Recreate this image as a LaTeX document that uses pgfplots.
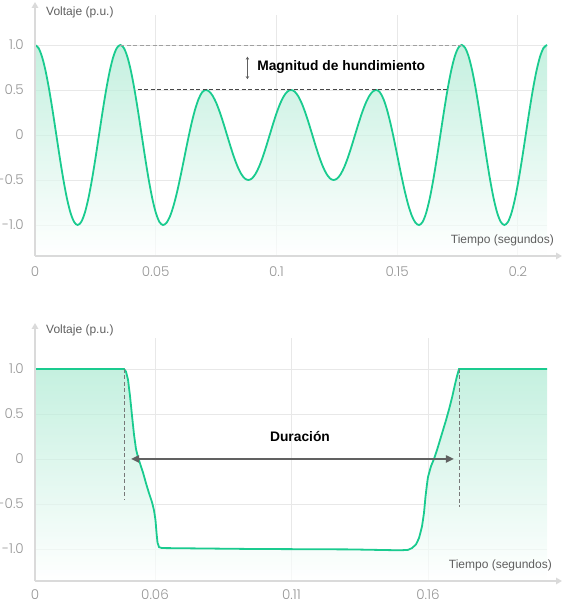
\documentclass[border=0pt]{standalone}
\usepackage{pgfplots}
\pgfplotsset{compat=1.18}
\usepackage{pgfplotstable}
\usepackage{fontspec}
\setmainfont{Liberation Sans}
\newfontfamily\tickfont{Poppins Light}
\usetikzlibrary{arrows.meta}

\definecolor{wave}{RGB}{26,203,143}
\definecolor{mint}{RGB}{172,234,210}
\definecolor{gridc}{RGB}{232,232,232}
\definecolor{axisc}{RGB}{218,218,218}
\definecolor{tickc}{RGB}{150,150,150}
\definecolor{labc}{RGB}{95,95,95}
\definecolor{dashc}{RGB}{120,120,120}

% sine wave with sag (t in s, v in p.u.)
\pgfplotstableread{
t v
0 1
0.001473 0.9659
0.002946 0.8660
0.004419 0.7071
0.005892 0.5
0.007365 0.2588
0.008838 0
0.010311 -0.2588
0.011784 -0.5
0.013257 -0.7071
0.014730 -0.8660
0.016203 -0.9659
0.017676 -1
0.019149 -0.9659
0.020622 -0.8660
0.022095 -0.7071
0.023568 -0.5
0.025041 -0.2588
0.026514 0
0.027987 0.2588
0.029460 0.5
0.030933 0.7071
0.032406 0.8660
0.033879 0.9659
0.035352 1
0.036825 0.9659
0.038298 0.8660
0.039771 0.7071
0.041244 0.5
0.042717 0.2588
0.044190 0
0.045663 -0.2588
0.047136 -0.5
0.048609 -0.7071
0.050082 -0.8660
0.051555 -0.9659
0.053028 -1
0.054501 -0.9744
0.055974 -0.8995
0.057447 -0.7803
0.058920 -0.625
0.060393 -0.4441
0.061866 -0.25
0.063339 -0.0559
0.064812 0.125
0.066285 0.2803
0.067758 0.3995
0.069231 0.4744
0.070704 0.5
0.072177 0.4830
0.073650 0.4330
0.075123 0.3536
0.076596 0.25
0.078069 0.1294
0.079542 0
0.081015 -0.1294
0.082488 -0.25
0.083961 -0.3536
0.085434 -0.4330
0.086907 -0.4830
0.088380 -0.5
0.089853 -0.4830
0.091326 -0.4330
0.092799 -0.3536
0.094272 -0.25
0.095745 -0.1294
0.097218 0
0.098691 0.1294
0.100164 0.25
0.101637 0.3536
0.103110 0.4330
0.104583 0.4830
0.106056 0.5
0.107529 0.4830
0.109002 0.4330
0.110475 0.3536
0.111948 0.25
0.113421 0.1294
0.114894 0
0.116367 -0.1294
0.117840 -0.25
0.119313 -0.3536
0.120786 -0.4330
0.122259 -0.4830
0.123732 -0.5
0.125205 -0.4830
0.126678 -0.4330
0.128151 -0.3536
0.129624 -0.25
0.131097 -0.1294
0.132570 0
0.134043 0.1294
0.135516 0.25
0.136989 0.3536
0.138462 0.4330
0.139935 0.4830
0.141408 0.5
0.142881 0.4744
0.144354 0.3995
0.145827 0.2803
0.147300 0.125
0.148773 -0.0559
0.150246 -0.25
0.151719 -0.4441
0.153192 -0.625
0.154665 -0.7803
0.156138 -0.8995
0.157611 -0.9744
0.159084 -1
0.160557 -0.9659
0.162030 -0.8660
0.163503 -0.7071
0.164976 -0.5
0.166449 -0.2588
0.167922 0
0.169395 0.2588
0.170868 0.5
0.172341 0.7071
0.173814 0.8660
0.175287 0.9659
0.176760 1
0.178233 0.9659
0.179706 0.8660
0.181179 0.7071
0.182652 0.5
0.184125 0.2588
0.185598 0
0.187071 -0.2588
0.188544 -0.5
0.190017 -0.7071
0.191490 -0.8660
0.192963 -0.9659
0.194436 -1
0.195909 -0.9659
0.197382 -0.8660
0.198855 -0.7071
0.200328 -0.5
0.201801 -0.2588
0.203274 0
0.204747 0.2588
0.206220 0.5
0.207693 0.7071
0.209166 0.8660
0.210639 0.9659
0.212112 1
}\sagwave

% rms-like profile
\pgfplotstableread{
t v
0.01604 1.0
0.04864 1.0
0.04938 0.97
0.05011 0.88
0.05084 0.70
0.05158 0.48
0.05231 0.27
0.05304 0.11
0.05377 0.02
0.05451 -0.05
0.05560 -0.15
0.05670 -0.27
0.05780 -0.38
0.05890 -0.48
0.05963 -0.57
0.06018 -0.68
0.06055 -0.82
0.06092 -0.93
0.06147 -0.98
0.06256 -0.99
0.09480 -1.00
0.13143 -1.005
0.14974 -1.015
0.15267 -1.01
0.15414 -0.99
0.15560 -0.95
0.15670 -0.88
0.15780 -0.75
0.15853 -0.60
0.15908 -0.42
0.15963 -0.28
0.16000 -0.20
0.16110 -0.08
0.16220 0.0
0.16330 0.10
0.16440 0.21
0.16549 0.32
0.16659 0.43
0.16769 0.55
0.16879 0.68
0.16989 0.83
0.17062 0.92
0.17136 1.0
0.20359 1.0
}\duration

\pgfplotsset{
  panel/.style={
    scale only axis, width=512bp, clip=false,
    axis line style={draw=none},
    grid=major, major grid style={gridc, line width=0.9bp},
    major tick length=0pt,
    ticklabel style={font=\tickfont\fontsize{13.5bp}{15bp}\selectfont, text=tickc, inner sep=0pt},
    yticklabel style={anchor=east, xshift=-11bp},
    ytick={-1,-0.5,0,0.5,1},
    yticklabels={-1.0,-0.5,0,0.5,1.0},
  },
}
\tikzset{
  axl/.style={axisc, line width=1.6bp, -{Triangle[length=6bp,width=6.5bp]}},
  lab/.style={labc, font=\fontsize{12bp}{14bp}\selectfont, inner sep=0pt},
  big/.style={black, font=\bfseries\fontsize{13.8bp}{16bp}\selectfont, inner sep=0pt},
}

\begin{document}
\begin{tikzpicture}
\useasboundingbox (0,0) rectangle (564bp,601bp);

% upper panel: waveform
\begin{axis}[panel, at={(35bp,345bp)}, anchor=south west, height=241bp,
  xmin=0, xmax=0.2121, ymin=-1.344, ymax=1.333,
  xticklabel style={anchor=center, yshift=-16bp},
  xtick={0,0.05,0.1,0.15,0.2}, xticklabels={0,0.05,0.1,0.15,0.2}]
\addplot[draw=none, smooth, top color=mint, bottom color=white, fill opacity=0.7]
  table[x=t, y=v] {\sagwave} -- (axis cs:0.2121,-1.344) -- (axis cs:0,-1.344) -- cycle;
\addplot[wave, line width=1.8bp, smooth] table[x=t, y=v] {\sagwave};
\draw[axl] (rel axis cs:0,0) -- ([xshift=15bp]rel axis cs:1,0);
\draw[axl] (rel axis cs:0,0) -- ([yshift=13bp]rel axis cs:0,1);
\node[lab, anchor=west] at ([xshift=11bp, yshift=3bp]rel axis cs:0,1) {Voltaje (p.u.)};
\node[lab, anchor=east] at ([xshift=7bp, yshift=16bp]rel axis cs:1,0) {Tiempo (segundos)};
\draw[dashc!70, line width=0.8bp, dash pattern=on 4bp off 2.5bp] (axis cs:0.0354,0.99) -- (axis cs:0.1771,0.99);
\draw[dashc!60!black, line width=0.8bp, dash pattern=on 4bp off 2.5bp] (axis cs:0.0425,0.51) -- (axis cs:0.1709,0.51);
\draw[dashc!80!black, line width=0.7bp, {Stealth[length=3bp,width=3.5bp]}-{Stealth[length=3bp,width=3.5bp]}] (axis cs:0.088,0.87) -- (axis cs:0.088,0.62);
\node[big, anchor=west] at (axis cs:0.092,0.755) {Magnitud de hundimiento};
\end{axis}

% lower panel: duration
\begin{axis}[panel, at={(35bp,20bp)}, anchor=south west, height=243bp,
  xmin=0.01604, xmax=0.20359, ymin=-1.356, ymax=1.344,
  xticklabel style={anchor=center, yshift=-13.5bp},
  xtick={0.01604,0.06,0.11,0.16}, xticklabels={0,0.06,0.11,0.16}]
\addplot[draw=none, top color=mint, bottom color=white, fill opacity=0.7]
  table[x=t, y=v] {\duration} -- (axis cs:0.20359,-1.356) -- (axis cs:0.01604,-1.356) -- cycle;
\addplot[wave, line width=1.8bp] table[x=t, y=v] {\duration};
\draw[axl] (rel axis cs:0,0) -- ([xshift=15bp]rel axis cs:1,0);
\draw[axl] (rel axis cs:0,0) -- ([yshift=15bp]rel axis cs:0,1);
\node[lab, anchor=west] at ([xshift=11bp, yshift=8bp]rel axis cs:0,1) {Voltaje (p.u.)};
\node[lab, anchor=east] at ([xshift=5bp, yshift=16bp]rel axis cs:1,0) {Tiempo (segundos)};
\draw[dashc, line width=0.8bp, dash pattern=on 4bp off 2.5bp] (axis cs:0.04864,1) -- (axis cs:0.04864,-0.45);
\draw[dashc, line width=0.8bp, dash pattern=on 4bp off 2.5bp] (axis cs:0.17136,1) -- (axis cs:0.17136,-0.53);
\draw[black!62, line width=2bp, {Triangle[length=8bp,width=7bp]}-{Triangle[length=8bp,width=7bp]}] (axis cs:0.05121,0) -- (axis cs:0.16952,0);
\node[big] at (axis cs:0.11311,0.255) {Duración};
\end{axis}
\end{tikzpicture}
\end{document}
